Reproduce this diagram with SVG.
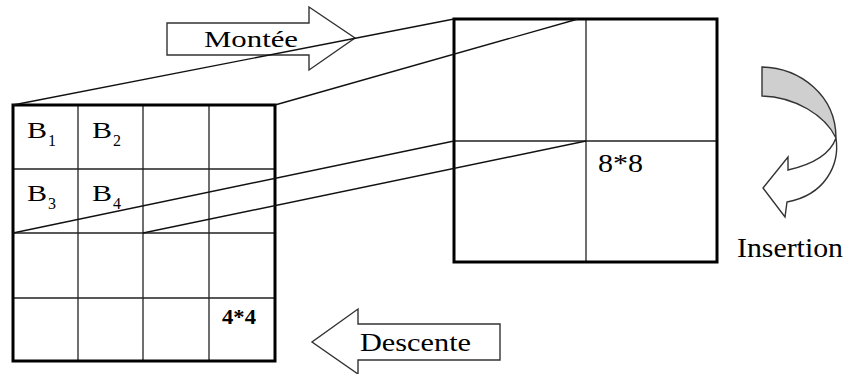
<svg xmlns="http://www.w3.org/2000/svg" width="848" height="374" viewBox="0 0 848 374">
<style>
.frame{fill:none;stroke:#000;stroke-width:3}
.grid{fill:none;stroke:#222;stroke-width:1.3}
.conn{fill:none;stroke:#111;stroke-width:1.4}
.arrow{fill:#fff;stroke:#333;stroke-width:1.4;stroke-linejoin:miter}
.t{font-family:"Liberation Serif","Times New Roman",serif;fill:#000}
</style>
<rect width="848" height="374" fill="#fff"/>
<g id="montee">
<path class="arrow" d="M167,23 H309 V7 L355,38 L309,70 V55 H167 Z"/>
<text class="t" x="204" y="47" font-size="23" textLength="94" lengthAdjust="spacingAndGlyphs">Montée</text>
</g>
<g id="descente">
<path class="arrow" d="M500,324 H358 V309 L312,342 L358,374 V360 H500 Z"/>
<text class="t" x="360" y="351" font-size="26" textLength="111" lengthAdjust="spacingAndGlyphs">Descente</text>
</g>
<g id="grid4">
<path class="grid" d="M78,105 V361 M143,105 V361 M209,105 V361 M13,169 H275 M13,233 H275 M13,298 H275"/>
<rect class="frame" x="13" y="105" width="262" height="256"/>
<text class="t" x="27" y="138" font-size="24" textLength="20" lengthAdjust="spacingAndGlyphs">B</text>
<text class="t" x="48" y="146" font-size="16">1</text>
<text class="t" x="92" y="138" font-size="24" textLength="20" lengthAdjust="spacingAndGlyphs">B</text>
<text class="t" x="113" y="146" font-size="16">2</text>
<text class="t" x="27" y="201" font-size="24" textLength="20" lengthAdjust="spacingAndGlyphs">B</text>
<text class="t" x="48" y="209" font-size="16">3</text>
<text class="t" x="92" y="201" font-size="24" textLength="20" lengthAdjust="spacingAndGlyphs">B</text>
<text class="t" x="113" y="209" font-size="16">4</text>
<text class="t" x="222" y="324" font-size="21" font-weight="bold" textLength="34" lengthAdjust="spacingAndGlyphs">4*4</text>
</g>
<g id="grid8">
<path class="grid" d="M586,19 V262 M454,141 H717"/>
<rect class="frame" x="454" y="19" width="263" height="243"/>
<text class="t" x="598" y="172" font-size="25" textLength="45" lengthAdjust="spacingAndGlyphs">8*8</text>
</g>
<g id="connectors">
<line class="conn" x1="13" y1="105" x2="454" y2="19"/>
<line class="conn" x1="275" y1="105" x2="578" y2="19"/>
<line class="conn" x1="13" y1="233" x2="454" y2="141"/>
<line class="conn" x1="143" y1="233" x2="586" y2="141"/>
</g>
<g id="insertion">
<path fill="#cfcfcf" stroke="#333" stroke-width="1.4" d="M762,67 C800,68 836,95 836,138 C825,115 795,97 762,96 Z"/>
<path class="arrow" d="M836,138 C840,165 825,195 787,202 L785,217 L763,188 L788,157 L788,170 C810,165 830,155 836,138 Z"/>
<text class="t" x="737" y="257" font-size="27" textLength="106" lengthAdjust="spacingAndGlyphs">Insertion</text>
</g>
</svg>
